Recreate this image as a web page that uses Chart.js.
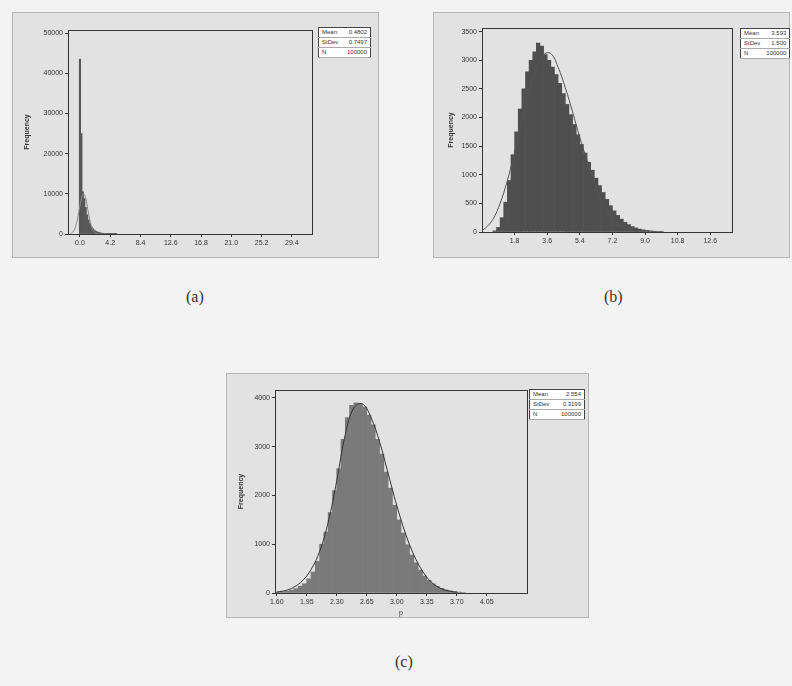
<!DOCTYPE html>
<html>
<head>
<meta charset="utf-8">
<script src="https://cdn.jsdelivr.net/npm/chart.js@4.4.1/dist/chart.umd.min.js"></script>
<style>
  body { margin: 0; width: 792px; height: 686px; background: #f3f3f3; position: relative; overflow: hidden;
         font-family: "Liberation Sans", Arial, sans-serif; }
  .panel { position: absolute; background: #e2e2e2; border: 1px solid #b5b5b5; }
  .panel canvas { position: absolute; left: 0; top: 0; }
  .stats { position: absolute; background: #fff; border: 1px solid #444; border-collapse: collapse;
           font-size: 6px; color: #333; }
  .stats td { padding: 0 3px; height: 9px; line-height: 9px; border-bottom: 1px solid #aaa; }
  .stats td.v { text-align: right; }
  .cap { position: absolute; font-family: "Liberation Serif", "DejaVu Serif", serif; font-size: 16px; color: #333; }
</style>
</head>
<body>

<div class="panel" id="pa" style="left:12px; top:12px; width:365px; height:244px;">
  <canvas id="chartA" width="365" height="244"></canvas>
  <table class="stats" style="left:305px; top:14px; width:53px;">
    <tr><td>Mean</td><td class="v">0.4802</td></tr>
    <tr><td>StDev</td><td class="v">0.7497</td></tr>
    <tr><td>N</td><td class="v">100000</td></tr>
  </table>
</div>
<div class="panel" id="pb" style="left:433px; top:12px; width:355px; height:244px;">
  <canvas id="chartB" width="355" height="244"></canvas>
  <table class="stats" style="left:306px; top:15px; width:48px;">
    <tr><td>Mean</td><td class="v">3.593</td></tr>
    <tr><td>StDev</td><td class="v">1.500</td></tr>
    <tr><td>N</td><td class="v">100000</td></tr>
  </table>
</div>
<div class="panel" id="pc" style="left:226px; top:373px; width:361px; height:243px;">
  <canvas id="chartC" width="361" height="243"></canvas>
  <table class="stats" style="left:302px; top:15px; width:56px;">
    <tr><td>Mean</td><td class="v">2.554</td></tr>
    <tr><td>StDev</td><td class="v">0.3199</td></tr>
    <tr><td>N</td><td class="v">100000</td></tr>
  </table>
</div>

<div class="cap" style="left:186px; top:288px;">(a)</div>
<div class="cap" style="left:604px; top:288px;">(b)</div>
<div class="cap" style="left:395px; top:653px;">(c)</div>

<script>
// panel (a)
const binsA = [0.0, 0.2, 0.4, 0.6, 0.8, 1.0, 1.2, 1.4, 1.6, 1.8, 2.0, 2.2, 2.4, 2.6, 2.8, 3.0,
               3.2, 3.4, 3.6, 3.8, 4.0, 4.2, 4.4, 4.6, 4.8, 5.0];
const countsA = [43500, 25000, 10500, 8800, 6600, 4800, 3500, 2500, 1800, 1300, 950, 700, 520, 390, 290, 220,
                 160, 120, 90, 65, 50, 38, 28, 20, 15, 10];
const fitXA = [-1.3, -1.0, -0.7, -0.4, -0.1, 0.2, 0.5, 0.8, 1.1, 1.4, 1.7, 2.0, 2.3, 2.6];
const fitYA = [110, 440, 1350, 3250, 6070, 8820, 10000, 8820, 6070, 3250, 1350, 440, 110, 20];
const xTicksA = [0.0, 4.2, 8.4, 12.6, 16.8, 21.0, 25.2, 29.4];
const yTicksA = [0, 10000, 20000, 30000, 40000, 50000];

// panel (b)
const binsB = [0.7, 0.9, 1.1, 1.3, 1.5, 1.7, 1.9, 2.1, 2.3, 2.5, 2.7, 2.9, 3.1, 3.3, 3.5, 3.7,
               3.9, 4.1, 4.3, 4.5, 4.7, 4.9, 5.1, 5.3, 5.5, 5.7, 5.9, 6.1, 6.3, 6.5, 6.7, 6.9,
               7.1, 7.3, 7.5, 7.7, 7.9, 8.1, 8.3, 8.5, 8.7, 8.9, 9.1, 9.3, 9.5, 9.7, 9.9];
const countsB = [20, 80, 250, 520, 900, 1350, 1750, 2150, 2500, 2800, 3000, 3150, 3300, 3250, 3100, 3000,
                 2880, 2750, 2600, 2420, 2230, 2050, 1880, 1700, 1530, 1380, 1220, 1080, 940, 810, 690, 570,
                 460, 370, 290, 225, 170, 130, 95, 70, 50, 38, 28, 20, 14, 10, 6];
const fitXB = [0.0, 0.2, 0.6, 1.0, 1.4, 1.8, 2.2, 2.6, 3.0, 3.4, 3.8, 4.2, 4.6, 5.0, 5.4, 5.8, 6.2,
               6.6, 7.0, 7.4, 7.8, 8.2, 8.6];
const fitYB = [30, 70, 220, 500, 900, 1400, 1920, 2430, 2850, 3100, 3120, 2880, 2520, 2100, 1650, 1250, 880,
               550, 310, 160, 70, 25, 8];
const xTicksB = [1.8, 3.6, 5.4, 7.2, 9.0, 10.8, 12.6];
const yTicksB = [0, 500, 1000, 1500, 2000, 2500, 3000, 3500];

// panel (c)
const binsC = [1.575, 1.625, 1.675, 1.725, 1.775, 1.825, 1.875, 1.925, 1.975, 2.025, 2.075, 2.125,
               2.175, 2.225, 2.275, 2.325, 2.375, 2.425, 2.475, 2.525, 2.575, 2.625, 2.675, 2.725,
               2.775, 2.825, 2.875, 2.925, 2.975, 3.025, 3.075, 3.125, 3.175, 3.225, 3.275, 3.325,
               3.375, 3.425, 3.475, 3.525, 3.575, 3.625, 3.675, 3.725, 3.775];
const countsC = [5, 15, 25, 40, 60, 90, 140, 190, 290, 430, 650, 1000,
                 1250, 1650, 2100, 2550, 3150, 3600, 3850, 3900, 3880, 3820, 3650, 3450,
                 3150, 2850, 2480, 2150, 1800, 1500, 1230, 990, 780, 620, 470, 350,
                 260, 190, 135, 95, 65, 45, 30, 20, 10];
const fitXC = [1.6, 1.7, 1.8, 1.9, 2.0, 2.1, 2.2, 2.3, 2.4, 2.5, 2.6, 2.7, 2.8, 2.9, 3.0, 3.1,
               3.2, 3.3, 3.4, 3.5, 3.6, 3.7];
const fitYC = [20, 50, 120, 250, 480, 850, 1450, 2300, 3250, 3800, 3880, 3600, 3100, 2450, 1800, 1230,
               780, 450, 230, 105, 42, 15];
const xTicksC = [1.60, 1.95, 2.30, 2.65, 3.00, 3.35, 3.70, 4.05];
const yTicksC = [0, 1000, 2000, 3000, 4000];

// frame round the plotting area
const plotBox = {
  id: 'plotBox',
  afterDraw(chart) {
    const a = chart.chartArea;
    const c = chart.ctx;
    c.save();
    c.strokeStyle = '#333';
    c.lineWidth = 1;
    c.strokeRect(Math.round(a.left) + 0.5, Math.round(a.top) + 0.5,
                 Math.round(a.right - a.left), Math.round(a.bottom - a.top));
    c.restore();
  }
};

const tickFont = { family: '"Liberation Sans", Arial, sans-serif', size: 7 };

function histChart(id, o) {
  return new Chart(document.getElementById(id), {
    type: 'bar',
    data: {
      datasets: [
        {
          type: 'line',
          data: o.fitX.map((x, i) => ({ x: x, y: o.fitY[i] })),
          borderColor: o.lineColor,
          borderWidth: 1,
          pointRadius: 0,
          tension: 0.4,
          fill: false,
          order: 0
        },
        {
          data: o.bins.map((x, i) => ({ x: x, y: o.counts[i] })),
          backgroundColor: o.barColor,
          borderWidth: 0,
          barPercentage: 1,
          categoryPercentage: 1,
          order: 1
        }
      ]
    },
    options: {
      responsive: false,
      animation: false,
      layout: { padding: { left: 0, right: o.padRight, top: o.padTop, bottom: 0 } },
      plugins: { legend: { display: false }, tooltip: { enabled: false } },
      scales: {
        x: {
          type: 'linear',
          min: o.xMin,
          max: o.xMax,
          offset: false,
          grid: { offset: false, drawOnChartArea: false, tickLength: 3, color: '#333' },
          border: { display: false },
          ticks: {
            font: tickFont, color: '#333', padding: 2, maxRotation: 0, autoSkip: false,
            callback: v => v.toFixed(o.digits)
          },
          title: { display: !!o.xTitle, text: o.xTitle || '', font: tickFont, color: '#333', padding: 0 },
          afterBuildTicks: s => { s.ticks = o.xTicks.map(v => ({ value: v })); },
          afterFit: s => { s.height = o.xHeight; }
        },
        y: {
          min: 0,
          max: o.yMax,
          grid: { drawOnChartArea: false, tickLength: 3, color: '#333' },
          border: { display: false },
          ticks: { font: tickFont, color: '#333', padding: 2, callback: v => String(v) },
          title: {
            display: true, text: 'Frequency', color: '#333',
            font: { family: tickFont.family, size: 7, weight: 'bold' },
            padding: { top: o.titlePad, bottom: 0 }
          },
          afterBuildTicks: s => { s.ticks = o.yTicks.map(v => ({ value: v })); },
          afterFit: s => { s.width = o.yWidth; }
        }
      }
    },
    plugins: [plotBox]
  });
}

histChart('chartA', {
  bins: binsA, counts: countsA, fitX: fitXA, fitY: fitYA, xTicks: xTicksA, yTicks: yTicksA,
  xMin: -1.66, xMax: 32.2, yMax: 50750, digits: 1,
  barColor: '#575757', lineColor: '#888',
  padRight: 66, padTop: 17, yWidth: 55, xHeight: 23, titlePad: 10
});

histChart('chartB', {
  bins: binsB, counts: countsB, fitX: fitXB, fitY: fitYB, xTicks: xTicksB, yTicks: yTicksB,
  xMin: 0.0, xMax: 13.8, yMax: 3565, digits: 1,
  barColor: '#4f4f4f', lineColor: '#555',
  padRight: 57, padTop: 15, yWidth: 48, xHeight: 25, titlePad: 13
});

histChart('chartC', {
  bins: binsC, counts: countsC, fitX: fitXC, fitY: fitYC, xTicks: xTicksC, yTicks: yTicksC,
  xMin: 1.58, xMax: 4.52, yMax: 4164, digits: 2,
  barColor: '#7a7a7a', lineColor: '#333', xTitle: 'p',
  padRight: 61, padTop: 16, yWidth: 48, xHeight: 24, titlePad: 10
});
</script>
</body>
</html>
